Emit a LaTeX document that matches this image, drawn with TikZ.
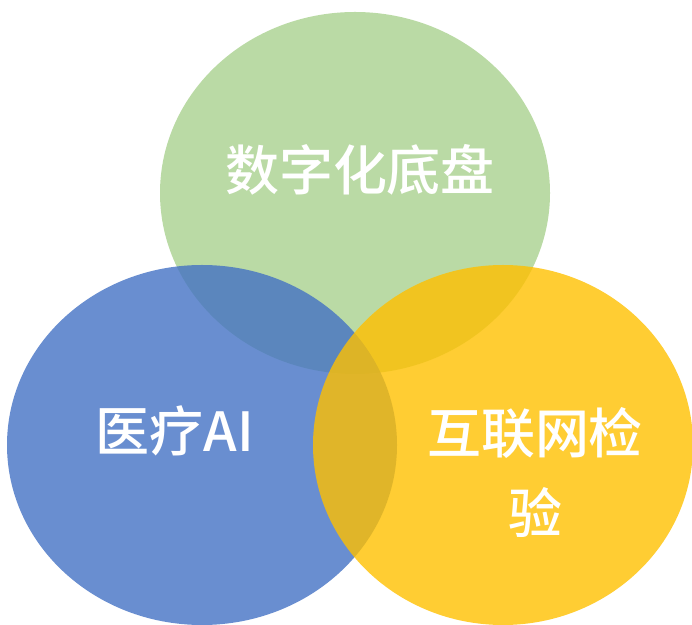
\documentclass[tikz,border=0pt]{standalone}
\usepackage{fontspec}
\newfontfamily\cjk{Noto Sans CJK SC Medium}
\usepackage{tikz}
\usetikzlibrary{positioning}
\definecolor{bgreen}{HTML}{A9D18E}
\definecolor{bblue}{HTML}{4472C4}
\definecolor{byellow}{HTML}{FFC000}

\begin{document}
\begin{tikzpicture}[% styles used in image code
blob/.style = {fill=#1, fill opacity=0.8},
 tag/.style = {text=white, align=center, inner sep=0pt,
               font=\cjk\fontsize{38.4}{57.6}\selectfont}
                    ]
	\useasboundingbox (0,0) rectangle (17.3,15.625);

	% the three circles
	\fill[blob=bgreen]  (8.875,10.8) ellipse [x radius=4.875, y radius=4.525];
	\fill[blob=bblue]   (5.05,4.5)   ellipse [x radius=4.875, y radius=4.5];
	\fill[blob=byellow] (12.575,4.5) ellipse [x radius=4.75,  y radius=4.5];

	% labels
	\node[tag] (base) at (9.0,11.375)    {数字化底盘};
	\node[tag] (ai)   at (4.375,4.85)    {医疗AI};
	\node[tag] (lab)  at (13.375,3.8125) {互联网检\\验};
\end{tikzpicture}
\end{document}
